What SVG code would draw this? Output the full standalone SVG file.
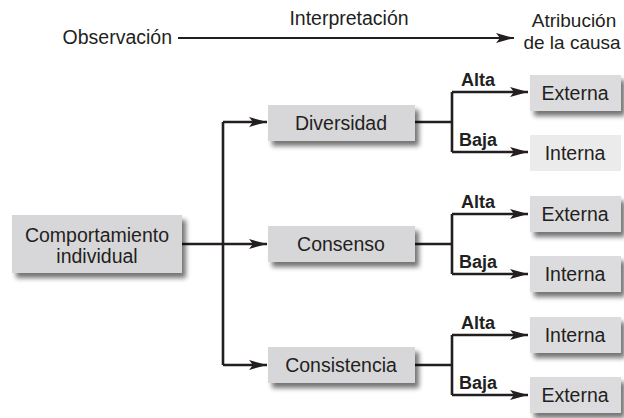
<svg xmlns="http://www.w3.org/2000/svg" width="624" height="418" viewBox="0 0 624 418">
<defs>
<style>
text{font-family:"Liberation Sans",Arial,sans-serif;fill:#231f20}
.t{font-size:19.5px}
.h{font-size:19px}
.b{font-size:18px;font-weight:bold}
.box{fill:#d7d7d9}
.rbox{fill:#dcdcde}
.lbox{fill:#ebebec}
.ln{fill:none;stroke:#231f20;stroke-width:2.6}
.hl{fill:none;stroke:#231f20;stroke-width:2}
</style>
<filter id="sh" x="-10%" y="-20%" width="130%" height="160%">
<feGaussianBlur in="SourceAlpha" stdDeviation="2.5"/>
<feOffset dx="4" dy="5" result="o"/>
<feComponentTransfer><feFuncA type="linear" slope="0.55"/></feComponentTransfer>
<feMerge><feMergeNode/><feMergeNode in="SourceGraphic"/></feMerge>
</filter>
<marker id="ah" markerUnits="userSpaceOnUse" markerWidth="18" markerHeight="10" refX="18" refY="5" orient="auto">
<path d="M0,0 L18,5 L0,10 L4,5 z" fill="#231f20"/>
</marker>
</defs>

<g id="header">
<text class="t" x="172" y="44" text-anchor="end">Observación</text>
<text class="t" x="349" y="25" text-anchor="middle">Interpretación</text>
<text class="h" x="574" y="27" text-anchor="middle">Atribución</text>
<text class="h" x="572" y="48.5" text-anchor="middle">de la causa</text>
</g>

<g id="connectors">
<line class="hl" x1="178" y1="38" x2="514" y2="38" marker-end="url(#ah)"/>
<path class="ln" d="M182,244 H223"/>
<path class="ln" d="M223,122 V365"/>
<path class="ln" d="M223,122 H267" marker-end="url(#ah)"/>
<path class="ln" d="M223,244 H267" marker-end="url(#ah)"/>
<path class="ln" d="M223,365 H267" marker-end="url(#ah)"/>
<path class="ln" d="M415,122 H452"/>
<path class="ln" d="M452,92 V152"/>
<path class="ln" d="M452,92 H528" marker-end="url(#ah)"/>
<path class="ln" d="M452,152 H528" marker-end="url(#ah)"/>
<path class="ln" d="M415,244 H452"/>
<path class="ln" d="M452,214 V274"/>
<path class="ln" d="M452,214 H528" marker-end="url(#ah)"/>
<path class="ln" d="M452,274 H528" marker-end="url(#ah)"/>
<path class="ln" d="M415,365 H452"/>
<path class="ln" d="M452,335 V395"/>
<path class="ln" d="M452,335 H528" marker-end="url(#ah)"/>
<path class="ln" d="M452,395 H528" marker-end="url(#ah)"/>
<text class="b" x="461" y="86">Alta</text>
<text class="b" x="459" y="146">Baja</text>
<text class="b" x="461" y="208">Alta</text>
<text class="b" x="459" y="268">Baja</text>
<text class="b" x="461" y="329">Alta</text>
<text class="b" x="459" y="389">Baja</text>
</g>

<g id="comportamiento">
<rect class="box" x="12" y="215" width="170" height="58" filter="url(#sh)"/>
<text class="t" x="97" y="242" text-anchor="middle">Comportamiento</text>
<text class="t" x="97" y="263" text-anchor="middle">individual</text>
</g>

<g id="diversidad">
<rect class="box" x="268" y="105" width="147" height="36" filter="url(#sh)"/>
<text class="t" x="341" y="130" text-anchor="middle">Diversidad</text>
</g>
<g id="consenso">
<rect class="box" x="268" y="226" width="147" height="36" filter="url(#sh)"/>
<text class="t" x="341" y="251" text-anchor="middle">Consenso</text>
</g>
<g id="consistencia">
<rect class="box" x="268" y="347" width="147" height="36" filter="url(#sh)"/>
<text class="t" x="341" y="372" text-anchor="middle">Consistencia</text>
</g>

<g id="div-alta">
<rect class="rbox" x="530" y="75" width="91" height="36" filter="url(#sh)"/>
<text class="t" x="575" y="100" text-anchor="middle">Externa</text>
</g>
<g id="div-baja">
<rect class="lbox" x="530" y="135" width="91" height="36"/>
<text class="t" x="575" y="160" text-anchor="middle">Interna</text>
</g>
<g id="con-alta">
<rect class="rbox" x="530" y="196" width="91" height="36" filter="url(#sh)"/>
<text class="t" x="575" y="221" text-anchor="middle">Externa</text>
</g>
<g id="con-baja">
<rect class="rbox" x="530" y="256" width="91" height="36" filter="url(#sh)"/>
<text class="t" x="575" y="281" text-anchor="middle">Interna</text>
</g>
<g id="cons-alta">
<rect class="rbox" x="530" y="317" width="91" height="36" filter="url(#sh)"/>
<text class="t" x="575" y="342" text-anchor="middle">Interna</text>
</g>
<g id="cons-baja">
<rect class="rbox" x="530" y="377" width="91" height="36" filter="url(#sh)"/>
<text class="t" x="575" y="402" text-anchor="middle">Externa</text>
</g>
</svg>
